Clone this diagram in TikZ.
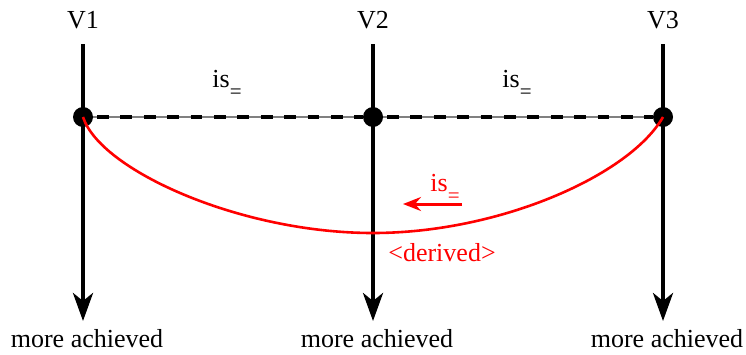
\documentclass[tikz,border=0pt]{standalone}
\usepackage{fontspec}
\setmainfont{Liberation Serif}
\usetikzlibrary{arrows.meta}
\newcommand{\issub}{is\raisebox{-11pt}{\fontsize{21}{21}\selectfont =}}
\begin{document}
\begin{tikzpicture}[x=1pt,y=-1pt,
  lbl/.style={font=\fontsize{26}{29}\selectfont, inner sep=0pt},
  axis/.style={line width=4pt, -{Stealth[length=28pt,width=20pt,inset=8pt]}},
  dot/.style={circle, fill=black, inner sep=0pt, minimum size=20pt},
  redc/.style={red, line width=2.6pt}]
\useasboundingbox (0,0) rectangle (746,354);
% top labels
\node[lbl] (v1) at (83,20) {V1};
\node[lbl] (v2) at (373,20) {V2};
\node[lbl] (v3) at (663,20) {V3};
% bottom labels
\node[lbl] (b1) at (87,339) {more achieved};
\node[lbl] (b2) at (377,339) {more achieved};
\node[lbl] (b3) at (667,339) {more achieved};
% axes
\coordinate (t1) at (83,44); \coordinate (e1) at (83,321);
\coordinate (t2) at (373,44); \coordinate (e2) at (373,321);
\coordinate (t3) at (663,44); \coordinate (e3) at (663,321);
\draw[axis] (t1) -- (e1);
\draw[axis] (t2) -- (e2);
\draw[axis] (t3) -- (e3);
% dot positions
\coordinate (c1) at (83,117);
\coordinate (c2) at (373,117);
\coordinate (c3) at (663,117);
% dashed relations
\draw[gray, line width=1.4pt] (c1) -- (c2);
\draw[gray, line width=1.4pt] (c2) -- (c3);
\draw[black, line width=3.5pt, dash pattern=on 11.7pt off 11.7pt, dash phase=-4pt] ([xshift=10pt]c1) -- ([xshift=-10pt]c2);
\draw[black, line width=3.5pt, dash pattern=on 11.7pt off 11.7pt, dash phase=-4pt] ([xshift=10pt]c2) -- ([xshift=-10pt]c3);
% dots
\node[dot] (d1) at (c1) {};
\node[dot] (d2) at (c2) {};
\node[dot] (d3) at (c3) {};
\node[lbl] (i1) at (227,84) {\issub};
\node[lbl] (i2) at (517,84) {\issub};
% derived curve
\draw[redc] (d1.center) .. controls (100,170) and (240,233) .. (373,233)
  .. controls (500,233) and (630,175) .. (d3.center);
\coordinate (ra) at (462,204);
\coordinate (rb) at (403,204);
\draw[red, line width=3pt, -{Stealth[length=18pt,width=14pt,inset=6pt]}] (ra) -- (rb);
\node[lbl, text=red] (i3) at (445,188) {\issub};
\node[lbl, text=red] (dv) at (442,253) {<derived>};
\end{tikzpicture}
\end{document}
